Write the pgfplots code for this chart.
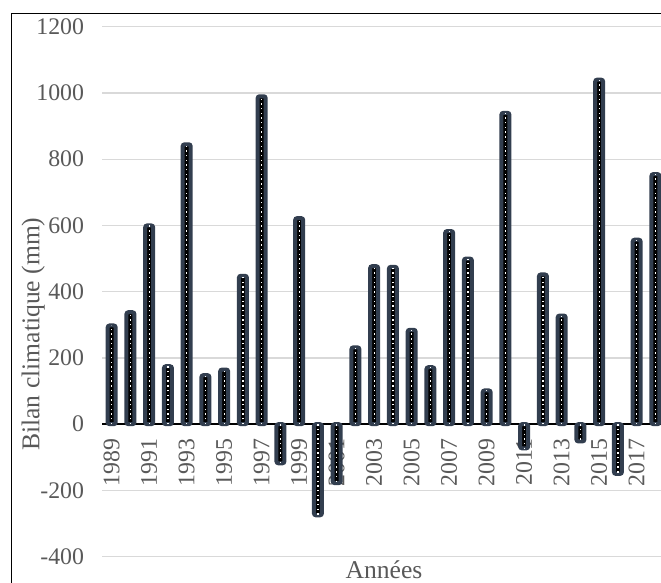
\documentclass[border=0pt]{standalone}
\usepackage{fontspec}
\setmainfont{Liberation Serif}
\usepackage{pgfplots}
\pgfplotsset{compat=1.18}
\definecolor{BarEdge}{HTML}{323E4F}
\definecolor{Grid}{HTML}{D9D9D9}
\definecolor{Label}{HTML}{595959}

% bilan climatique annuel (mm), 1989 = 0
\pgfplotstableread{
idx val
0 298
1 338
2 600
3 175
4 845
5 148
6 165
7 448
8 990
9 -118
10 622
11 -275
12 -178
13 232
14 477
15 475
16 285
17 172
18 583
19 500
20 102
21 940
22 -73
23 452
24 328
25 -52
26 1040
27 -150
28 557
29 755
}\bilan

\begin{document}
\begin{tikzpicture}
\useasboundingbox (0,0) rectangle (330.5pt,-291.5pt);
\clip (0,0) rectangle (330.5pt,-291.5pt);
\begin{axis}[scale only axis,width=281.25pt,height=265pt,
  at={(51.15pt,-278.35pt)},anchor=south west,
  xmin=-0.5,xmax=29.5,ymin=-400,ymax=1200,enlargelimits=false,
  axis x line=middle,axis y line=left,
  x axis line style={-,draw=black,line width=0.75pt},
  y axis line style={draw=none},
  major tick length=0pt,
  ymajorgrids,grid style={draw=Grid,line width=0.65pt},
  ytick={-400,-200,0,200,400,600,800,1000,1200},
  yticklabels={-400,-200,0,200,400,600,800,1000,1200},
  xtick={0,2,...,28},
  xticklabels={1989,1991,1993,1995,1997,1999,2001,2003,2005,2007,2009,2011,2013,2015,2017},
  tick label style={font=\fontsize{11.9}{13}\selectfont,text=Label},
  yticklabel style={xshift=-5.6pt},
  xticklabel style={rotate=90,anchor=east,inner xsep=7pt},
  label style={font=\fontsize{12.8}{14}\selectfont,text=Label},
  ylabel={Bilan climatique (mm)},
  ylabel style={at={(axis description cs:-0.123,0.42)},anchor=center,rotate=0},
  xlabel={Années},
  xlabel style={at={(axis description cs:0.5008,-0.042)},anchor=base},
]
  \addplot[ybar,bar width=4pt,fill=black,draw=BarEdge,line width=2pt,
    rounded corners=1pt] table[x=idx,y=val]{\bilan};
  \addplot[ycomb,no marks,draw=white,line width=0.65pt,
    dash pattern=on 0.7pt off 1.65pt] table[x=idx,y=val]{\bilan};
\end{axis}
\draw[line width=0.75pt] (5.85pt,-291.5pt) -- (5.85pt,-6.65pt) -- (330.5pt,-6.65pt);
\end{tikzpicture}
\end{document}
